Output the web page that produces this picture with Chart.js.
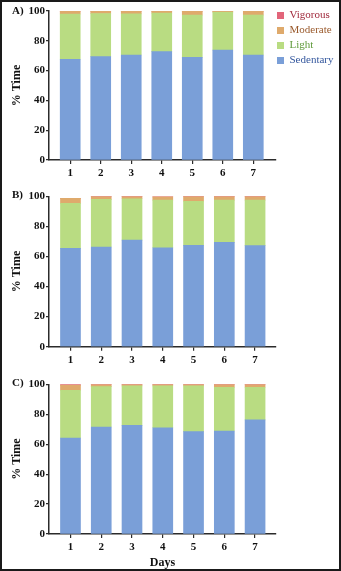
<!DOCTYPE html>
<html>
<head>
<meta charset="utf-8">
<script src="https://cdn.jsdelivr.net/npm/chart.js@4.4.0/dist/chart.umd.min.js"></script>
<style>
    html, body { margin: 0; padding: 0; background: #fff; }
    #wrap { position: relative; width: 341px; height: 571px; overflow: hidden; background: #fff; }
    #wrap canvas { position: absolute; left: 0; }
    #frame {
        position: absolute; left: 0; top: 0; width: 341px; height: 571px;
        box-sizing: border-box; border: 2px solid #1a1a1a; pointer-events: none;
    }
</style>
</head>
<body>
<div id="wrap">
    <canvas id="chartA" width="341" height="185" style="top:0;width:341px;height:185px"></canvas>
    <canvas id="chartB" width="341" height="185" style="top:185px;width:341px;height:185px"></canvas>
    <canvas id="chartC" width="341" height="201" style="top:370px;width:341px;height:201px"></canvas>
    <div id="frame"></div>
</div>
<script>
// Dias (eixo x)
const days = [1, 2, 3, 4, 5, 6, 7];
const seriesNames = ['Sedentary', 'Light', 'Moderate', 'Vigorous'];

// Painel A) - % de tempo por dia
const sedentaryA = [67.6, 69.4, 70.5, 72.7, 68.9, 73.8, 70.5];
const lightA     = [30.4, 28.9, 27.6, 25.9, 28.4, 25.4, 26.8];
const moderateA  = [1.8, 1.5, 1.7, 1.2, 2.5, 0.6, 2.5];
const vigorousA  = [0.2, 0.2, 0.2, 0.2, 0.2, 0.2, 0.2];

// Painel B)
const sedentaryB = [65.4, 66.3, 70.9, 65.8, 67.4, 69.4, 67.2];
const lightB     = [29.9, 31.7, 27.5, 31.7, 29.3, 28.1, 30.3];
const moderateB  = [3.3, 1.8, 1.4, 2.1, 3.1, 2.3, 2.3];
const vigorousB  = [0.1, 0.2, 0.2, 0.2, 0.2, 0.2, 0.2];

// Painel C)
const sedentaryC = [64.1, 71.5, 72.6, 71.0, 68.4, 68.8, 76.2];
const lightC     = [31.9, 26.9, 26.3, 27.9, 30.5, 29.2, 21.8];
const moderateC  = [3.5, 1.4, 0.9, 0.9, 0.9, 1.8, 1.8];
const vigorousC  = [0.5, 0.2, 0.2, 0.2, 0.2, 0.2, 0.2];

const yTicks = [0, 20, 40, 60, 80, 100];

// Cores das barras e do texto da legenda
const COLORS = {
    bars: ['#7a9fd8', '#b9dc82', '#dfaa6c', '#e2657a'],
    text: ['#35589e', '#5f9a3a', '#9a5a2c', '#a02a3c']
};
const AXIS = '#2b2b2b';

Chart.defaults.font.family = '"Liberation Serif", "Times New Roman", serif';
Chart.defaults.color = '#111';

// Letra do painel (A), B), C))
const panelLabelPlugin = {
    id: 'panelLabel',
    afterDraw(chart, args, opts) {
        if (!opts.text) return;
        const ctx = chart.ctx;
        ctx.save();
        ctx.font = 'bold 11px "Liberation Serif", serif';
        ctx.fillStyle = '#111';
        ctx.textBaseline = 'middle';
        ctx.fillText(opts.text, opts.x, opts.y);
        ctx.restore();
    }
};

// Coloca a legenda à direita do eixo x
const legendPlacePlugin = {
    id: 'legendPlace',
    afterLayout(chart, args, opts) {
        const lg = chart.legend;
        if (!lg || !opts.enabled) return;
        const h = lg.height;
        lg.left = opts.left;
        lg.top = opts.top;
        lg.right = chart.width;
        lg.bottom = opts.top + h;
    }
};

function makePanel(id, letter, values, geom) {
    const ctx = document.getElementById(id).getContext('2d');
    const datasets = values.map((vals, k) => ({
        label: seriesNames[k],
        data: days.map((d, i) => ({ x: d, y: vals[i] })),
        backgroundColor: COLORS.bars[k],
        borderWidth: 0,
        barThickness: 20
    }));

    return new Chart(ctx, {
        type: 'bar',
        data: { datasets: datasets },
        plugins: [panelLabelPlugin, legendPlacePlugin],
        options: {
            responsive: false,
            animation: false,
            layout: { padding: { top: geom.top, right: 65, bottom: 0, left: 0 } },
            scales: {
                x: {
                    type: 'linear',
                    stacked: true,
                    offset: false,
                    min: geom.xMin,
                    max: geom.xMax,
                    afterBuildTicks(scale) {
                        scale.ticks = days.map(d => ({ value: d }));
                    },
                    afterFit(scale) {
                        scale.height = geom.height - geom.bottom;
                    },
                    border: { color: AXIS, width: 1.5 },
                    grid: { offset: false, drawOnChartArea: false, tickLength: 4, color: AXIS, lineWidth: 1.2 },
                    ticks: {
                        padding: 3,
                        color: '#111',
                        font: { size: 11, weight: 'bold' },
                        callback: v => String(v)
                    },
                    title: {
                        display: !!geom.xTitle,
                        text: 'Days',
                        color: '#111',
                        font: { size: 12, weight: 'bold' },
                        padding: { top: 0, bottom: 1 }
                    }
                },
                y: {
                    stacked: true,
                    min: 0,
                    max: 100,
                    afterBuildTicks(scale) {
                        scale.ticks = yTicks.map(v => ({ value: v }));
                    },
                    afterFit(scale) {
                        scale.width = 49;
                    },
                    border: { color: AXIS, width: 1.5 },
                    grid: { drawOnChartArea: false, tickLength: 3, color: AXIS, lineWidth: 1.2 },
                    ticks: {
                        padding: 1,
                        color: '#111',
                        font: { size: 11, weight: 'bold' }
                    },
                    title: {
                        display: true,
                        text: '% Time',
                        color: '#111',
                        font: { size: 12, weight: 'bold' },
                        padding: { top: 10, bottom: 0 }
                    }
                }
            },
            plugins: {
                tooltip: { enabled: false },
                panelLabel: { text: letter, x: 12, y: geom.labelY },
                legendPlace: { enabled: !!geom.legend, left: 273, top: 6 },
                legend: {
                    display: !!geom.legend,
                    position: 'chartArea',
                    align: 'start',
                    reverse: true,
                    labels: {
                        boxWidth: 7,
                        boxHeight: 7,
                        padding: 4,
                        font: { size: 11 },
                        generateLabels(chart) {
                            const items = Chart.defaults.plugins.legend.labels.generateLabels(chart);
                            items.forEach(it => { it.fontColor = COLORS.text[it.datasetIndex]; });
                            return items;
                        }
                    }
                }
            }
        }
    });
}

makePanel('chartA', 'A)', [sedentaryA, lightA, moderateA, vigorousA],
    { height: 185, top: 11, bottom: 160, xMin: 0.305, xMax: 7.744, labelY: 10.7, legend: true });
makePanel('chartB', 'B)', [sedentaryB, lightB, moderateB, vigorousB],
    { height: 185, top: 11.3, bottom: 161.7, xMin: 0.302, xMax: 7.68, labelY: 10 });
makePanel('chartC', 'C)', [sedentaryC, lightC, moderateC, vigorousC],
    { height: 201, top: 14.3, bottom: 164, xMin: 0.302, xMax: 7.68, labelY: 13.3, xTitle: true });
</script>
</body>
</html>
